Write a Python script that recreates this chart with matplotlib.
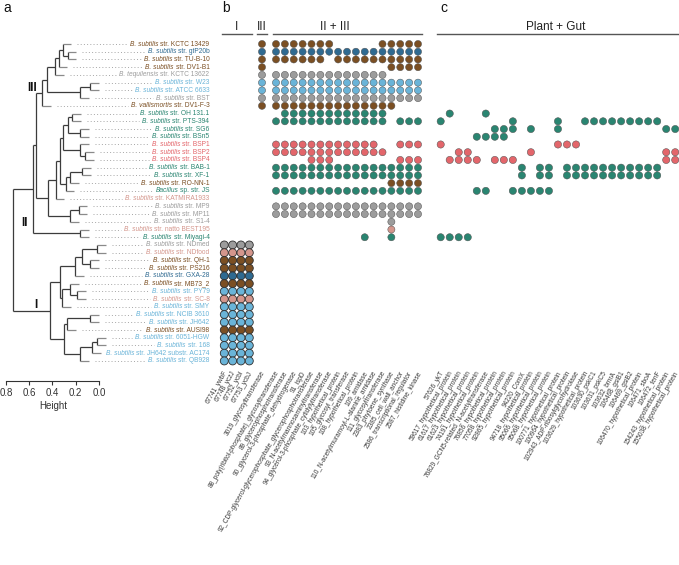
import matplotlib
matplotlib.use("Agg")
import matplotlib.pyplot as plt

plt.rcParams['font.family'] = ['Liberation Sans', 'DejaVu Sans']

# ------------------------------------------------------------------ data
strain_italic = [
    "B. subtilis", "B. subtilis", "B. subtilis", "B. subtilis", "B. tequilensis",
    "B. subtilis", "B. subtilis", "B. subtilis", "B. vallismortis", "B. subtilis",
    "B. subtilis", "B. subtilis", "B. subtilis", "B. subtilis", "B. subtilis",
    "B. subtilis", "B. subtilis", "B. subtilis", "B. subtilis", "Bacillus",
    "B. subtilis", "B. subtilis", "B. subtilis", "B. subtilis", "B. subtilis",
    "B. subtilis", "B. subtilis", "B. subtilis", "B. subtilis", "B. subtilis",
    "B. subtilis", "B. subtilis", "B. subtilis", "B. subtilis", "B. subtilis",
    "B. subtilis", "B. subtilis", "B. subtilis", "B. subtilis", "B. subtilis",
    "B. subtilis", "B. subtilis"]
strain_rest = [
    "str. KCTC 13429", "str. gtP20b", "str. TU-B-10", "str. DV1-B1", "str. KCTC 13622",
    "str. W23", "str. ATCC 6633", "str. BST", "str. DV1-F-3", "str. OH 131.1",
    "str. PTS-394", "str. SG6", "str. BSn5", "str. BSP1", "str. BSP2",
    "str. BSP4", "str. BAB-1", "str. XF-1", "str. RO-NN-1", "sp. str. JS",
    "str. KATMIRA1933", "str. MP9", "str. MP11", "str. S1-4", "str. natto BEST195",
    "str. Miyagi-4", "str. NDmed", "str. NDfood", "str. QH-1", "str. PS216",
    "str. GXA-28", "str. MB73_2", "str. PY79", "str. SC-8", "str. SMY",
    "str. NCIB 3610", "str. JH642", "str. AUSI98", "str. 6051-HGW", "str. 168",
    "str. JH642 substr. AC174", "str. QB928"]
strain_group = [
    "brown", "navy", "brown", "brown", "grey", "sky", "sky", "grey", "brown", "teal",
    "teal", "teal", "teal", "red", "red", "red", "teal", "teal", "brown", "teal",
    "salmon", "grey", "grey", "grey", "salmon", "teal", "grey", "salmon", "brown", "brown",
    "navy", "brown", "sky", "salmon", "sky", "sky", "sky", "brown", "sky", "sky",
    "sky", "sky"]

# hierarchical clustering merges: (node, child1, child2, height)
merges = [
    ("iii_a", 1, 2, 0.267), ("iii_b", 0, "iii_a", 0.310), ("iii_c", "iii_b", 3, 0.344),
    ("iii_d", "iii_c", 4, 0.378), ("iii_e", 5, 6, 0.077), ("iii_f", "iii_e", 7, 0.163),
    ("iii_g", "iii_d", "iii_f", 0.447), ("III", "iii_g", 8, 0.490),
    ("ii_a", 9, 10, 0.232), ("ii_b", 11, 12, 0.163), ("ii_c", "ii_a", "ii_b", 0.267),
    ("ii_d", 14, 15, 0.120), ("ii_e", 13, "ii_d", 0.163), ("ii_f", "ii_c", "ii_e", 0.310),
    ("ii_g", 16, 17, 0.146), ("ii_h", "ii_g", 18, 0.249), ("ii_i", "ii_h", 19, 0.284),
    ("ii_j", "ii_f", "ii_i", 0.335), ("ii_k", "ii_j", 20, 0.370), ("ii_l", 21, 22, 0.172),
    ("ii_m", "ii_l", 23, 0.249), ("ii_n", "ii_k", "ii_m", 0.439), ("ii_o", 24, 25, 0.163),
    ("X", "III", "ii_n", 0.542), ("A", "X", "ii_o", 0.568),
    ("i_a", 26, 27, 0.017), ("i_b", 28, 29, 0.077), ("i_c", "i_a", "i_b", 0.146),
    ("i_d", "i_c", 30, 0.206), ("i_e", 32, 33, 0.189), ("i_f", 31, "i_e", 0.249),
    ("i_g", "i_f", 34, 0.318), ("i_h", "i_d", "i_g", 0.335), ("i_i", 35, 36, 0.077),
    ("i_j", "i_i", 37, 0.275), ("i_k", 38, 39, 0.017), ("i_l", "i_k", 40, 0.060),
    ("i_m", "i_l", 41, 0.163), ("i_n", "i_j", "i_m", 0.300), ("I", "i_h", "i_n", 0.422),
    ("root", "A", "I", 0.740)]
leaf_hang = 0.073
height_ticks = [0.8, 0.6, 0.4, 0.2, 0.0]

genes_I = ["67741_ywbF", "67748_yczJ", "67752_ycbI", "67753_ycbJ"]
genes_III = ["3019_glycosyltransferase"]
genes_II_III = [
    "88_poly(ribitol-phosphate)_glycosyltransferase", "89_glycerophosphotransferase",
    "90_glycerol-3-phosphate_dehydrogenase", "91_ispD",
    "92_CDP-glycerol-glycerophosphate_glycerophosphotransferase",
    "93_N-acetylmannosaminyltransferase", "94_glycerol-3-phosphate_cytidylyltransferase",
    "103_hypothetical_protein", "105_glycosyl_transferase", "108_hypothetical_protein",
    "109_amidase", "110_N-acetylmuramoyl-L-alanine_amidase", "111_glycosyltransferase",
    "2383_phytoene_synthase", "2385_cell_wall_anchor", "2586_transcriptional_regulator",
    "2587_histidine_kinase"]
genes_plant_gut = [
    "57626_ykT", "59617_hypothetical_protein", "61617_hypothetical_protein",
    "61623_hypothetical_protein", "74191_hypothetical_protein",
    "76829_GCN5-related_N-acetyltransferase", "76856_hypothetical_protein",
    "77058_hypothetical_protein", "92865_hypothetical_protein", "94220_ComX",
    "94718_hypothetical_protein", "95066_hypothetical_protein", "95068_hypothetical_protein",
    "100771_hypothetical_protein", "100964_hypothetical_protein",
    "102943_ADP-ribosylglycohydrolase", "103629_hypothetical_protein", "103630_pskC1",
    "103631_pskC5", "103632_bmrA", "106468_gsiB1", "106469_gsiB2",
    "106470_hypothetical_protein", "106471_sboA", "106472_tenF",
    "154243_hypothetical_protein", "155038_hypothetical_protein"]

pres_I = [
    "0000", "0000", "0000", "0000", "0000", "0000", "0000", "0000", "0000", "0000",
    "0000", "0000", "0000", "0000", "0000", "0000", "0000", "0000", "0000", "0000",
    "0000", "0000", "0000", "0000", "0000", "0000", "1111", "1111", "1111", "1111",
    "1111", "1111", "1111", "1111", "1111", "1111", "1111", "1111", "1111", "1111",
    "1111", "1111"]
pres_III = [
    "1", "1", "1", "1", "1", "1", "1", "1", "1", "0", "0", "0", "0", "0",
    "0", "0", "0", "0", "0", "0", "0", "0", "0", "0", "0", "0", "0", "0",
    "0", "0", "0", "0", "0", "0", "0", "0", "0", "0", "0", "0", "0", "0"]
pres_II_III = [
    "11111110000011111", "11111111111111111", "11111101111111111", "00000000000001111",
    "11111111111110000", "11111111111111111", "11111111111111111", "11111111111111111",
    "11111111111111000", "01111111111110000", "11111111111110111", "00000000000000000",
    "00000000000000000", "11111111111100111", "11111111111110000", "00001110000000111",
    "11111111111111111", "11111111111111111", "00000000000001111", "11111111111111111",
    "00000000000000000", "11111111111111111", "11111111111111111", "00000000000001000",
    "00000000000001000", "00000000001001000", "00000000000000000", "00000000000000000",
    "00000000000000000", "00000000000000000", "00000000000000000", "00000000000000000",
    "00000000000000000", "00000000000000000", "00000000000000000", "00000000000000000",
    "00000000000000000", "00000000000000000", "00000000000000000", "00000000000000000",
    "00000000000000000", "00000000000000000"]
pres_plant_gut = [
    "000000000000000000000000000", "000000000000000000000000000", "000000000000000000000000000",
    "000000000000000000000000000", "000000000000000000000000000", "000000000000000000000000000",
    "000000000000000000000000000", "000000000000000000000000000", "000000000000000000000000000",
    "010001000000000000000000000", "100000001000010011111111100", "000000111010010000000000011",
    "000011110000000000000000000", "100000000000011100000000000", "001100000010000000000000011",
    "011110111000000000000000011", "000000000101101111111111100", "000000000101101111111111100",
    "000000000000000000000000000", "000011001111100000000000000", "000000000000000000000000000",
    "000000000000000000000000000", "000000000000000000000000000", "000000000000000000000000000",
    "000000000000000000000000000", "111100000000000000000000000", "000000000000000000000000000",
    "000000000000000000000000000", "000000000000000000000000000", "000000000000000000000000000",
    "000000000000000000000000000", "000000000000000000000000000", "000000000000000000000000000",
    "000000000000000000000000000", "000000000000000000000000000", "000000000000000000000000000",
    "000000000000000000000000000", "000000000000000000000000000", "000000000000000000000000000",
    "000000000000000000000000000", "000000000000000000000000000", "000000000000000000000000000"]

# ------------------------------------------------------------------ style
palette = {"brown": "#7b4f23", "navy": "#2f6a91", "sky": "#6ab4d8", "grey": "#9c9c9c",
           "teal": "#2a8571", "red": "#e3666b", "salmon": "#d4968c"}

W, H = 679, 565
fig = plt.figure(figsize=(W / 100, H / 100), dpi=100)
NROW = len(strain_rest)
ROW0, ROWSTEP = 44.0, 7.73
TOP = ROW0 - ROWSTEP / 2
HPX = NROW * ROWSTEP
LABEL_FS = 4.75


def add_ax(left_px, width_px):
    return fig.add_axes([left_px / W, 1 - (TOP + HPX) / H, width_px / W, HPX / H])


def row_of(py):
    return (py - ROW0) / ROWSTEP

# ------------------------------------------------------------------ dendrogram (a)
H0PX, PXU = 99.0, 116.25
DW = 222
axd = add_ax(0, DW)
axd.set_xlim(H0PX / PXU, (H0PX - DW) / PXU)
axd.set_ylim(NROW - 0.5, -0.5)
axd.patch.set_alpha(0)
for sp in ("top", "right", "left"):
    axd.spines[sp].set_visible(False)
axd.spines["bottom"].set_position(("outward", 11.4))
axd.spines["bottom"].set_bounds(0, 0.8)
axd.spines["bottom"].set_color("#333333")
axd.spines["bottom"].set_linewidth(0.8)
axd.set_yticks([])
axd.set_xticks(height_ticks)
axd.set_xticklabels([f"{t:.1f}" for t in height_ticks])
axd.tick_params(axis="x", length=3, width=0.8, labelsize=7, pad=2.5, colors="#333333")
axd.set_xlabel("Height", fontsize=7, color="#333333")
axd.xaxis.set_label_coords(53 / DW, -0.112)

pos = {i: float(i) for i in range(NROW)}
hgt = {}
leaf_end = {}
for node, a, b, h in merges:
    pos[node] = (pos[a] + pos[b]) / 2
    hgt[node] = h
    col_int = "#3c3c3c"
    axd.plot([h, h], [pos[a], pos[b]], color=col_int, lw=0.9, solid_capstyle="butt")
    for ch in (a, b):
        if isinstance(ch, int):
            end = h - leaf_hang
            leaf_end[ch] = end
            axd.plot([h, end], [pos[ch], pos[ch]], color="#8a8a8a", lw=0.9,
                     solid_capstyle="butt")
        else:
            axd.plot([h, hgt[ch]], [pos[ch], pos[ch]], color=col_int, lw=0.9,
                     solid_capstyle="butt")

label_x = (H0PX - 209.5) / PXU
rest_texts = []
for i in range(NROW):
    t = axd.text(label_x, i, strain_rest[i], ha="right", va="center", fontsize=LABEL_FS,
                 color=palette[strain_group[i]])
    rest_texts.append(t)

for txt, hx, ry in (("III", 0.576, 5.69), ("II", 0.637, 23.16), ("I", 0.542, 33.8)):
    axd.text(hx, ry, txt, fontsize=8.5, fontweight="bold", ha="center", va="center",
             color="#111111")

# ------------------------------------------------------------------ dot panels
HEAD_ROW = row_of(33.5)
LAB_ROW = row_of(371.5)


def dot_panel(first_px, step_px, pres, genes, header, header_x, line_span,
              s, ec, elw):
    n = len(genes)
    ax = add_ax(first_px - step_px / 2, n * step_px)
    ax.set_xlim(-0.5, n - 0.5)
    ax.set_ylim(NROW - 0.5, -0.5)
    ax.axis("off")
    xs, ys, cs = [], [], []
    for r, row in enumerate(pres):
        for j, ch in enumerate(row):
            if ch == "1":
                xs.append(j)
                ys.append(r)
                cs.append(palette[strain_group[r]])
    ax.scatter(xs, ys, s=s, c=cs, edgecolors=ec, linewidths=elw, clip_on=False, zorder=3)
    for j, g in enumerate(genes):
        ax.text(j + 0.2, LAB_ROW, g, rotation=60, rotation_mode="anchor", ha="right",
                va="center", fontsize=4.7, color="#3a3a3a")
    ax.plot(line_span, [HEAD_ROW, HEAD_ROW], color="#555555", lw=1.0, clip_on=False)
    ax.text(header_x, HEAD_ROW - 0.05, header, ha="center", va="bottom", fontsize=8.5,
            color="#222222")
    return ax


dot_panel(224.3, 8.33, pres_I, genes_I, "I", 1.5, [-0.3, 3.35], 33, "#2e2e2e", 0.6)
dot_panel(262.0, 8.88, pres_III, genes_III, "III", 0.0, [-0.55, 0.55], 26, "#505050", 0.35)
dot_panel(276.0, 8.875, pres_II_III, genes_II_III, "II + III", 6.6, [-0.37, 16.4],
          26, "#505050", 0.35)
dot_panel(440.7, 9.02, pres_plant_gut, genes_plant_gut, "Plant + Gut", 12.7,
          [-0.41, 26.5], 27, "#505050", 0.35)

# panel letters
for letter, px in (("a", 3), ("b", 222), ("c", 440)):
    fig.text(px / W, 1 - 12 / H, letter, fontsize=10, va="baseline", ha="left",
             color="#111111")

# ------------------------------------------------------------------ italic species part
fig.canvas.draw()
rend = fig.canvas.get_renderer()
inv = axd.transData.inverted()
space_h = 1.7 / PXU
ital_texts = []
for i, t in enumerate(rest_texts):
    bb = t.get_window_extent(rend)
    left_h = inv.transform((bb.x0, bb.y0))[0]
    it = axd.text(left_h + space_h, i, strain_italic[i], ha="right", va="center",
                  fontsize=LABEL_FS, fontstyle="italic", color=palette[strain_group[i]])
    ital_texts.append(it)

# ------------------------------------------------------------------ dotted leaders
fig.canvas.draw()
rend = fig.canvas.get_renderer()
for i, t in enumerate(ital_texts):
    bb = t.get_window_extent(rend)
    left_h = inv.transform((bb.x0, bb.y0))[0]
    start = leaf_end[i] - 6 / PXU
    end = left_h + 3 / PXU
    if start > end:
        axd.plot([start, end], [i, i], color="#a6a6a6", lw=0.7,
                 linestyle=(0, (1, 2.3)))

fig.savefig("out.png", dpi=100)
